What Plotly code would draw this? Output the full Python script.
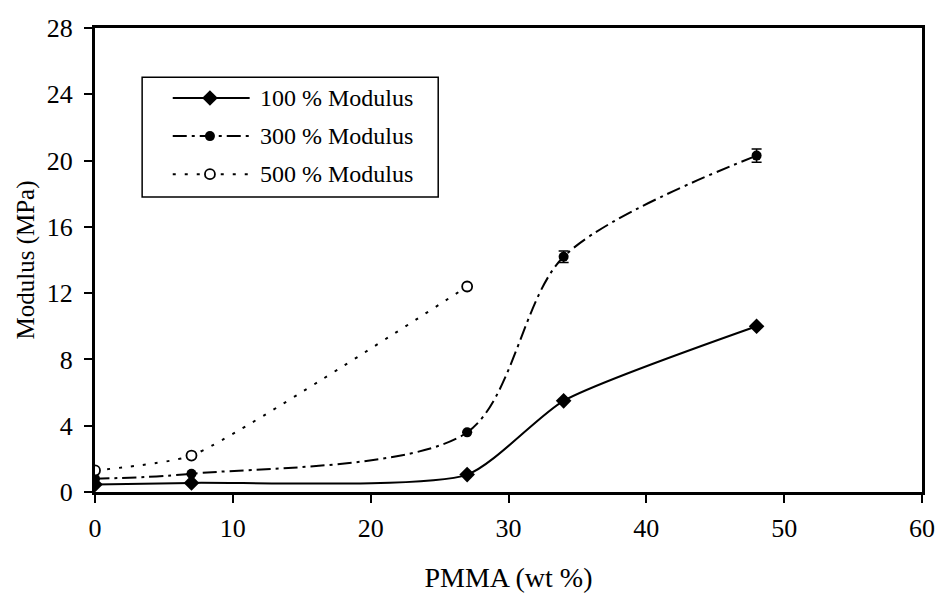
import plotly.graph_objects as go

# PMMA content (wt %) of each blend
pmma = [0, 7, 27, 34, 48]
pmma_500 = [0, 7, 27]

# Modulus values (MPa)
mod_100 = [0.45, 0.55, 1.05, 5.5, 10.0]
mod_300 = [0.8, 1.1, 3.6, 14.2, 20.3]
mod_500 = [1.3, 2.2, 12.4]

# Error bar half-widths (MPa)
err_300 = [0, 0, 0, 0.35, 0.4]

series_names = ["100 % Modulus", "300 % Modulus", "500 % Modulus"]

x_ticks = [0, 10, 20, 30, 40, 50, 60]
y_ticks = [0, 4, 8, 12, 16, 20, 24, 28]

font = "Liberation Serif, Times New Roman, serif"

# line and marker styles per series
styles = [
    dict(line=dict(color="black", width=2, shape="spline", smoothing=0.6),
         marker=dict(symbol="diamond", size=12, color="black")),
    dict(line=dict(color="black", width=2, shape="spline", smoothing=0.85,
                   dash="14px,5px,3px,5px"),
         marker=dict(symbol="circle", size=10, color="black")),
    dict(line=dict(color="black", width=2, shape="spline", smoothing=0.5,
                   dash="3px,9px"),
         marker=dict(symbol="circle", size=10, color="white",
                     line=dict(width=1.8, color="black"))),
]

fig = go.Figure()

fig.add_trace(go.Scatter(x=pmma, y=mod_100, name=series_names[0],
                         mode="lines+markers", showlegend=False, **styles[0]))
fig.add_trace(go.Scatter(x=pmma, y=mod_300, name=series_names[1],
                         mode="lines+markers", showlegend=False,
                         error_y=dict(type="data", array=err_300, color="black",
                                      thickness=1.5, width=5),
                         **styles[1]))
fig.add_trace(go.Scatter(x=pmma_500, y=mod_500, name=series_names[2],
                         mode="lines+markers", showlegend=False, **styles[2]))

# Boxed key drawn on an overlay axis spanning the plot area (0..1 in both directions)
key_box = dict(x0=0.057, x1=0.415, y0=0.636, y1=0.894)
key_rows = [0.849, 0.767, 0.685]
key_line = (0.094, 0.187)
key_mark = 0.139
key_text = 0.197

for name, row, st in zip(series_names, key_rows, styles):
    line = dict(st["line"])
    line.pop("shape", None)
    line.pop("smoothing", None)
    fig.add_trace(go.Scatter(x=list(key_line), y=[row, row], mode="lines", line=line,
                             xaxis="x2", yaxis="y2", showlegend=False, hoverinfo="skip"))
    fig.add_trace(go.Scatter(x=[key_mark], y=[row], mode="markers", marker=st["marker"],
                             xaxis="x2", yaxis="y2", showlegend=False, hoverinfo="skip"))
    fig.add_annotation(x=key_text, y=row, xref="x2", yref="y2", text=name,
                       showarrow=False, xanchor="left", yanchor="middle",
                       font=dict(family=font, size=24, color="black"))

fig.add_shape(type="rect", xref="x2", yref="y2", line=dict(color="black", width=1.5),
              fillcolor="rgba(0,0,0,0)", layer="below", **key_box)

axis_common = dict(
    showgrid=False, zeroline=False, showline=True, linecolor="black", linewidth=3,
    mirror=True, ticks="outside", ticklen=8, tickwidth=1.5, tickcolor="black",
    tickfont=dict(family=font, size=26, color="black"), automargin=False,
)

fig.update_xaxes(
    range=[0, 60], tickvals=x_ticks, ticktext=[str(v) for v in x_ticks],
    ticklabelstandoff=3,
    title=dict(text="PMMA (wt %)", font=dict(family=font, size=28, color="black"), standoff=43),
    **axis_common,
)
fig.update_yaxes(
    range=[0, 28], tickvals=y_ticks, ticktext=[str(v) for v in y_ticks],
    ticklabelstandoff=6,
    title=dict(text="Modulus (MPa)", font=dict(family=font, size=25, color="black"), standoff=6),
    **axis_common,
)

fig.update_layout(
    width=936, height=593,
    margin=dict(l=95, r=14, t=28, b=101),
    paper_bgcolor="white", plot_bgcolor="white",
    showlegend=False,
    xaxis2=dict(overlaying="x", range=[0, 1], visible=False, fixedrange=True),
    yaxis2=dict(overlaying="y", range=[0, 1], visible=False, fixedrange=True),
)

fig.write_html("out.html")
